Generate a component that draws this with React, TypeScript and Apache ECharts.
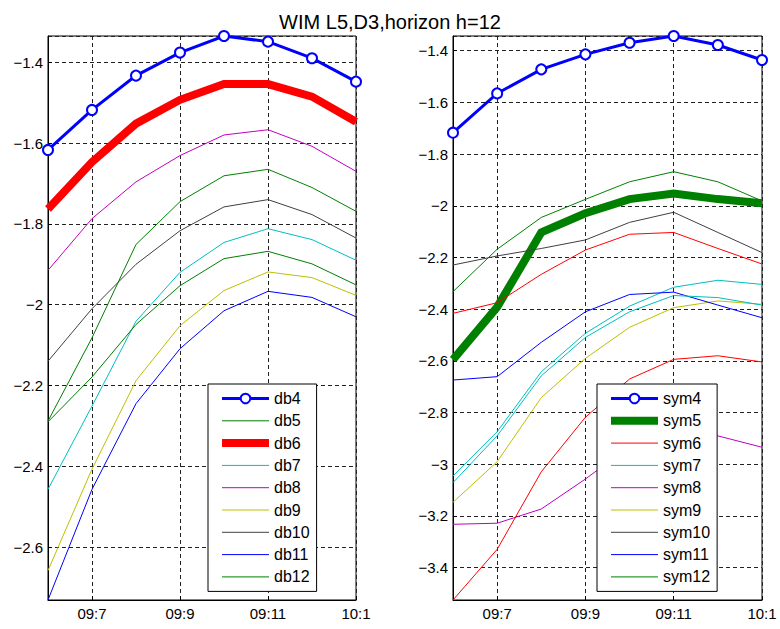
import { useEffect, useRef } from "react";
import * as echarts from "echarts";

// time steps along the horizontal axis
const times = ["09:6", "09:7", "09:8", "09:9", "09:10", "09:11", "09:12", "10:1"];

// left panel: Daubechies wavelets
const db4 = [-1.617, -1.518, -1.433, -1.376, -1.335, -1.349, -1.39, -1.448];
const db5 = [-2.288, -2.082, -1.851, -1.745, -1.681, -1.665, -1.71, -1.769];
const db6 = [-1.763, -1.647, -1.552, -1.493, -1.454, -1.454, -1.485, -1.547];
const db7 = [-2.457, -2.251, -2.041, -1.92, -1.846, -1.812, -1.839, -1.89];
const db8 = [-1.915, -1.787, -1.696, -1.631, -1.58, -1.567, -1.608, -1.67];
const db9 = [-2.658, -2.407, -2.188, -2.052, -1.965, -1.919, -1.933, -1.977];
const db10 = [-2.14, -2.01, -1.9, -1.817, -1.758, -1.74, -1.777, -1.835];
const db11 = [-2.731, -2.457, -2.245, -2.109, -2.015, -1.967, -1.982, -2.03];
const db12 = [-2.29, -2.179, -2.049, -1.953, -1.886, -1.868, -1.899, -1.951];

// right panel: Symlets
const sym4 = [-1.717, -1.565, -1.472, -1.414, -1.369, -1.343, -1.378, -1.436];
const sym5 = [-2.595, -2.392, -2.103, -2.029, -1.974, -1.952, -1.974, -1.99];
const sym6 = [-2.416, -2.375, -2.265, -2.171, -2.11, -2.103, -2.165, -2.225];
const sym7 = [-3.045, -2.874, -2.642, -2.493, -2.388, -2.315, -2.288, -2.304];
const sym8 = [-3.232, -3.228, -3.173, -3.057, -2.93, -2.88, -2.89, -2.934];
const sym9 = [-3.147, -2.99, -2.742, -2.59, -2.47, -2.394, -2.368, -2.381];
const sym10 = [-2.229, -2.194, -2.165, -2.132, -2.064, -2.025, -2.103, -2.181];
const sym11 = [-2.674, -2.661, -2.528, -2.41, -2.343, -2.334, -2.384, -2.433];
const sym12 = [-2.332, -2.168, -2.045, -1.975, -1.907, -1.868, -1.907, -1.981];
const sym13 = [-3.525, -3.329, -3.029, -2.818, -2.67, -2.594, -2.58, -2.604];
const sym14 = [-3.071, -2.89, -2.658, -2.509, -2.41, -2.347, -2.355, -2.384];

const TITLE = "WIM L5,D3,horizon h=12";
const FONT = "'Liberation Sans', Arial, Helvetica, sans-serif";

// classic plotting colour order
const COL = {
  b: "#0000ff",
  g: "#008000",
  r: "#ff0000",
  c: "#00bfbf",
  m: "#bf00bf",
  y: "#bfbf00",
  k: "#404040",
};

type Spec = { name: string; data: number[]; color: string; width: number; marker?: boolean };

const leftSpecs: Spec[] = [
  { name: "db4", data: db4, color: COL.b, width: 3, marker: true },
  { name: "db5", data: db5, color: COL.g, width: 1 },
  { name: "db6", data: db6, color: COL.r, width: 8 },
  { name: "db7", data: db7, color: COL.c, width: 1 },
  { name: "db8", data: db8, color: COL.m, width: 1 },
  { name: "db9", data: db9, color: COL.y, width: 1 },
  { name: "db10", data: db10, color: COL.k, width: 1 },
  { name: "db11", data: db11, color: COL.b, width: 1 },
  { name: "db12", data: db12, color: COL.g, width: 1 },
];

const rightSpecs: Spec[] = [
  { name: "sym4", data: sym4, color: COL.b, width: 3, marker: true },
  { name: "sym5", data: sym5, color: COL.g, width: 8 },
  { name: "sym6", data: sym6, color: COL.r, width: 1 },
  { name: "sym7", data: sym7, color: COL.c, width: 1 },
  { name: "sym8", data: sym8, color: COL.m, width: 1 },
  { name: "sym9", data: sym9, color: COL.y, width: 1 },
  { name: "sym10", data: sym10, color: COL.k, width: 1 },
  { name: "sym11", data: sym11, color: COL.b, width: 1 },
  { name: "sym12", data: sym12, color: COL.g, width: 1 },
  { name: "sym13", data: sym13, color: COL.r, width: 1 },
  { name: "sym14", data: sym14, color: COL.c, width: 1 },
];
const rightLegend = ["sym4", "sym5", "sym6", "sym7", "sym8", "sym9", "sym10", "sym11", "sym12"];

const oddOnly = (i: number) => i % 2 === 1;
const fmtTick = (v: number) => String(parseFloat(v.toFixed(3))).replace("-", "\u2212");

function makeSeries(s: Spec, idx: number) {
  return {
    type: "line",
    name: s.name,
    data: s.data,
    xAxisIndex: idx,
    yAxisIndex: idx,
    symbol: s.marker ? "emptyCircle" : "none",
    symbolSize: 10,
    showSymbol: !!s.marker,
    lineStyle: { color: s.color, width: s.width, join: "miter" },
    itemStyle: s.marker
      ? { color: s.color, borderColor: s.color, borderWidth: 2.5 }
      : { color: "rgba(0,0,0,0)", borderColor: "rgba(0,0,0,0)" },
    emphasis: { disabled: true },
    silent: true,
  };
}

function xAxis(idx: number) {
  return {
    type: "category",
    gridIndex: idx,
    data: times,
    boundaryGap: false,
    axisLine: { show: true, onZero: false, lineStyle: { color: "#000", width: 1 } },
    axisTick: { show: true, inside: true, length: 4, interval: oddOnly, lineStyle: { color: "#000" } },
    axisLabel: { interval: oddOnly, color: "#000", fontSize: 15, fontFamily: FONT, margin: 6 },
    splitLine: {
      show: true,
      interval: oddOnly,
      lineStyle: { color: "#222", type: [4, 3], width: 1 },
    },
  };
}

function yAxis(idx: number) {
  return {
    type: "value",
    gridIndex: idx,
    min: "dataMin",
    max: "dataMax",
    splitNumber: 7,
    minInterval: 0.2,
    maxInterval: 0.2,
    axisLine: { show: true, lineStyle: { color: "#000", width: 1 } },
    axisTick: { show: true, inside: true, length: 4, lineStyle: { color: "#000" } },
    axisLabel: {
      color: "#000",
      fontSize: 15,
      fontFamily: FONT,
      margin: 5,
      showMinLabel: false,
      showMaxLabel: false,
      formatter: fmtTick,
    },
    splitLine: { show: true, lineStyle: { color: "#222", type: [4, 3], width: 1 } },
  };
}

function legend(specs: Spec[], names: string[], left: number) {
  return {
    data: names.map((n) => {
      const s = specs.find((x) => x.name === n)!;
      return { name: n, lineStyle: { width: s.width } };
    }),
    orient: "vertical",
    left,
    top: 384,
    itemWidth: 47,
    itemHeight: 12,
    itemGap: 6.3,
    padding: [6.5, 7, 6.5, 10],
    borderColor: "#000",
    borderWidth: 1,
    backgroundColor: "#fff",
    selectedMode: false,
    textStyle: { color: "#000", fontSize: 16, fontFamily: FONT },
  };
}

export default function App() {
  const ref = useRef<HTMLDivElement>(null);

  useEffect(() => {
    if (!ref.current) return;
    const chart = echarts.init(ref.current, undefined, { renderer: "svg" });
    chart.setOption({
      animation: false,
      backgroundColor: "#fff",
      title: {
        text: TITLE,
        left: "center",
        top: 7,
        textStyle: { color: "#000", fontSize: 20, fontWeight: "normal", fontFamily: FONT },
      },
      grid: [
        { left: 48, top: 36, width: 308, height: 564, show: true, borderColor: "#000", borderWidth: 1 },
        { left: 453, top: 36, width: 309, height: 564, show: true, borderColor: "#000", borderWidth: 1 },
      ],
      xAxis: [xAxis(0), xAxis(1)],
      yAxis: [yAxis(0), { ...yAxis(1), splitNumber: 11 }],
      legend: [
        legend(leftSpecs, leftSpecs.map((s) => s.name), 208),
        legend(rightSpecs, rightLegend, 597),
      ],
      series: [
        ...leftSpecs.map((s) => makeSeries(s, 0)),
        ...rightSpecs.map((s) => makeSeries(s, 1)),
      ],
    });
    return () => chart.dispose();
  }, []);

  return (
    <div
      ref={ref}
      style={{ position: "fixed", left: 0, top: 0, width: 780, height: 629, background: "#fff" }}
    />
  );
}
